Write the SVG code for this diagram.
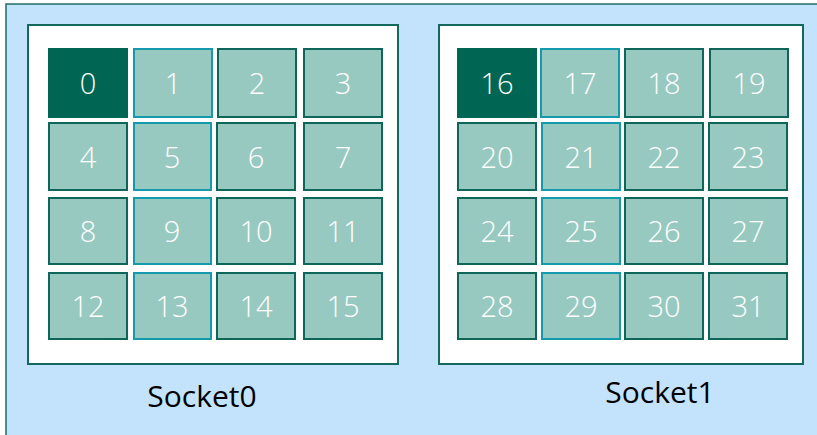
<svg xmlns="http://www.w3.org/2000/svg" width="817" height="435" viewBox="0 0 817 435">
<style>
.outer{fill:#c3e3fc;stroke:#1f6e64;stroke-width:1.5}
.sock{fill:#ffffff;stroke:#15695c;stroke-width:2}
.c{fill:#98c9c1;stroke:#0d6658;stroke-width:2}
.b{fill:#98c9c1;stroke:#1599ac;stroke-width:2}
.d{fill:#006654;stroke:#006654;stroke-width:2}
.n{font-family:"Open Sans","Noto Sans",sans-serif;font-weight:300;font-size:29px;fill:#ffffff;text-anchor:middle}
.l{font-family:"Open Sans","Noto Sans",sans-serif;font-size:30px;fill:#000000;text-anchor:middle}
</style>
<rect class="outer" x="6" y="4" width="830" height="450"/>
<g id="socket0">
<rect class="sock" x="28" y="25" width="370" height="339"/>
<text class="l" x="202" y="407">Socket0</text>
</g>
<g id="socket1">
<rect class="sock" x="439" y="25" width="364" height="339"/>
<text class="l" x="660" y="403">Socket1</text>
</g>
<g id="core0"><rect class="d" x="49" y="49" width="78" height="68"/><text class="n" x="88" y="94">0</text></g>
<g id="core1"><rect class="b" x="134" y="49" width="78" height="68"/><text class="n" x="173" y="94">1</text></g>
<g id="core2"><rect class="c" x="218" y="49" width="78" height="68"/><text class="n" x="257" y="94">2</text></g>
<g id="core3"><rect class="c" x="304" y="49" width="78" height="68"/><text class="n" x="343" y="94">3</text></g>
<g id="core4"><rect class="c" x="49" y="123" width="78" height="67"/><text class="n" x="88" y="168">4</text></g>
<g id="core5"><rect class="b" x="134" y="123" width="77" height="67"/><text class="n" x="172" y="168">5</text></g>
<g id="core6"><rect class="c" x="217" y="123" width="78" height="67"/><text class="n" x="256" y="168">6</text></g>
<g id="core7"><rect class="c" x="304" y="123" width="78" height="67"/><text class="n" x="343" y="168">7</text></g>
<g id="core8"><rect class="c" x="49" y="198" width="78" height="66"/><text class="n" x="88" y="242">8</text></g>
<g id="core9"><rect class="b" x="134" y="198" width="77" height="66"/><text class="n" x="172" y="242">9</text></g>
<g id="core10"><rect class="c" x="217" y="198" width="78" height="66"/><text class="n" x="256" y="242">10</text></g>
<g id="core11"><rect class="c" x="304" y="198" width="78" height="66"/><text class="n" x="343" y="242">11</text></g>
<g id="core12"><rect class="c" x="49" y="273" width="78" height="66"/><text class="n" x="88" y="317">12</text></g>
<g id="core13"><rect class="b" x="134" y="273" width="77" height="66"/><text class="n" x="172" y="317">13</text></g>
<g id="core14"><rect class="c" x="217" y="273" width="78" height="66"/><text class="n" x="256" y="317">14</text></g>
<g id="core15"><rect class="c" x="304" y="273" width="78" height="66"/><text class="n" x="343" y="317">15</text></g>
<g id="core16"><rect class="d" x="458" y="49" width="78" height="68"/><text class="n" x="497" y="94">16</text></g>
<g id="core17"><rect class="b" x="541" y="49" width="78" height="68"/><text class="n" x="580" y="94">17</text></g>
<g id="core18"><rect class="c" x="625" y="49" width="78" height="68"/><text class="n" x="664" y="94">18</text></g>
<g id="core19"><rect class="c" x="710" y="49" width="78" height="68"/><text class="n" x="749" y="94">19</text></g>
<g id="core20"><rect class="c" x="458" y="123" width="78" height="67"/><text class="n" x="497" y="168">20</text></g>
<g id="core21"><rect class="b" x="542" y="123" width="78" height="67"/><text class="n" x="581" y="168">21</text></g>
<g id="core22"><rect class="c" x="625" y="123" width="78" height="67"/><text class="n" x="664" y="168">22</text></g>
<g id="core23"><rect class="c" x="709" y="123" width="78" height="67"/><text class="n" x="748" y="168">23</text></g>
<g id="core24"><rect class="c" x="458" y="198" width="78" height="66"/><text class="n" x="497" y="242">24</text></g>
<g id="core25"><rect class="b" x="542" y="198" width="78" height="66"/><text class="n" x="581" y="242">25</text></g>
<g id="core26"><rect class="c" x="625" y="198" width="78" height="66"/><text class="n" x="664" y="242">26</text></g>
<g id="core27"><rect class="c" x="709" y="198" width="78" height="66"/><text class="n" x="748" y="242">27</text></g>
<g id="core28"><rect class="c" x="458" y="273" width="78" height="66"/><text class="n" x="497" y="317">28</text></g>
<g id="core29"><rect class="b" x="542" y="273" width="78" height="66"/><text class="n" x="581" y="317">29</text></g>
<g id="core30"><rect class="c" x="625" y="273" width="78" height="66"/><text class="n" x="664" y="317">30</text></g>
<g id="core31"><rect class="c" x="709" y="273" width="78" height="66"/><text class="n" x="748" y="317">31</text></g>
<g id="connectors"/>
</svg>
